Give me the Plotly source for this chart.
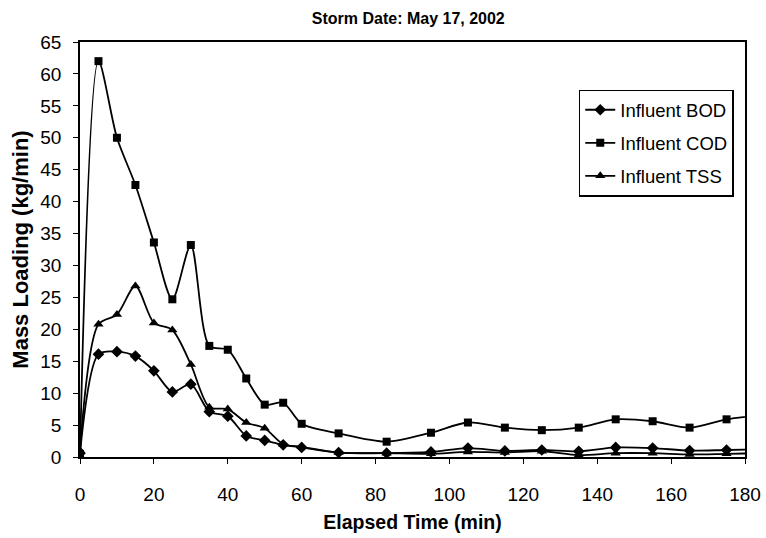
import plotly.graph_objects as go

time_bod = [0, 5, 10, 15, 20, 25, 30, 35, 40, 45, 50, 55, 60, 70, 83, 95, 105, 115, 125, 135, 145, 155, 165, 175, 185]
bod = [0.6, 16.1, 16.5, 15.8, 13.5, 10.2, 11.4, 7.1, 6.4, 3.3, 2.6, 1.9, 1.5, 0.7, 0.6, 0.8, 1.4, 0.95, 1.1, 0.9, 1.5, 1.4, 1.0, 1.1, 1.2]

time_cod = [0, 5, 10, 15, 20, 25, 30, 35, 40, 45, 50, 55, 60, 70, 83, 95, 105, 115, 125, 135, 145, 155, 165, 175, 185]
cod = [0.5, 62, 50.0, 42.6, 33.6, 24.7, 33.2, 17.4, 16.8, 12.3, 8.2, 8.5, 5.2, 3.7, 2.4, 3.8, 5.4, 4.6, 4.2, 4.6, 5.9, 5.6, 4.6, 5.9, 6.6]

time_tss = [0, 5, 10, 15, 20, 25, 30, 35, 40, 45, 50, 55, 60, 70, 83, 95, 105, 115, 125, 135, 145, 155, 165, 175, 185]
tss = [1.0, 20.8, 22.3, 26.8, 21.0, 19.9, 14.5, 7.8, 7.5, 5.4, 4.5, 2.0, 1.6, 0.7, 0.6, 0.5, 0.8, 0.7, 0.9, 0.3, 0.6, 0.6, 0.4, 0.5, 0.6]

x_ticks = list(range(0, 181, 20))
y_ticks = list(range(0, 66, 5))

font_family = "Liberation Sans, Arial, sans-serif"
line_style = dict(color="black", width=1.8, shape="spline", smoothing=0.8)

fig = go.Figure()
fig.add_trace(go.Scatter(x=time_bod, y=bod, name="Influent BOD", mode="lines+markers", legendgroup="a",
                         line=line_style, marker=dict(symbol="diamond", size=9, color="black")))
fig.add_trace(go.Scatter(x=time_cod, y=cod, name="Influent COD", mode="lines+markers", legendgroup="b",
                         line=line_style, marker=dict(symbol="square", size=8, color="black")))
fig.add_trace(go.Scatter(x=time_tss, y=tss, name="Influent TSS", mode="lines+markers", legendgroup="c",
                         line=line_style, marker=dict(symbol="triangle-up", size=9, color="black")))

fig.update_layout(
    width=766, height=538,
    paper_bgcolor="white", plot_bgcolor="white",
    margin=dict(l=80, r=21, t=42, b=81),
    font=dict(family=font_family, color="black", size=18),
    title=dict(text="<b>Storm Date: May 17, 2002</b>", x=0.533, xanchor="center", y=0.965, yanchor="middle",
               font=dict(size=16, family=font_family)),
    legend=dict(x=0.75, y=0.885, xanchor="left", yanchor="top", bordercolor="black", borderwidth=1.5,
                bgcolor="white", font=dict(size=18.5), traceorder="grouped", tracegroupgap=6,
                itemwidth=30),
    showlegend=True,
)
fig.update_xaxes(range=[0, 180], tickvals=x_ticks, ticks="outside", ticklen=5, tickcolor="black",
                 showline=True, linecolor="black", linewidth=1.5, mirror=True, showgrid=False, zeroline=False,
                 automargin=False, ticklabelstandoff=14,
                 title=dict(text="<b>Elapsed Time (min)</b>", font=dict(size=19.5), standoff=12),
                 tickfont=dict(size=19))
fig.update_yaxes(range=[0, 65], tickvals=y_ticks, ticks="outside", ticklen=5, tickcolor="black",
                 showline=True, linecolor="black", linewidth=1.5, mirror=True, showgrid=False, zeroline=False,
                 automargin=False, ticklabelstandoff=8,
                 title=dict(text="<b>Mass Loading (kg/min)</b>", font=dict(size=22), standoff=6),
                 tickfont=dict(size=19))

fig.write_html("out.html", config={"displayModeBar": False},
               post_script="document.body.style.margin='0px';document.body.style.padding='0px';")
